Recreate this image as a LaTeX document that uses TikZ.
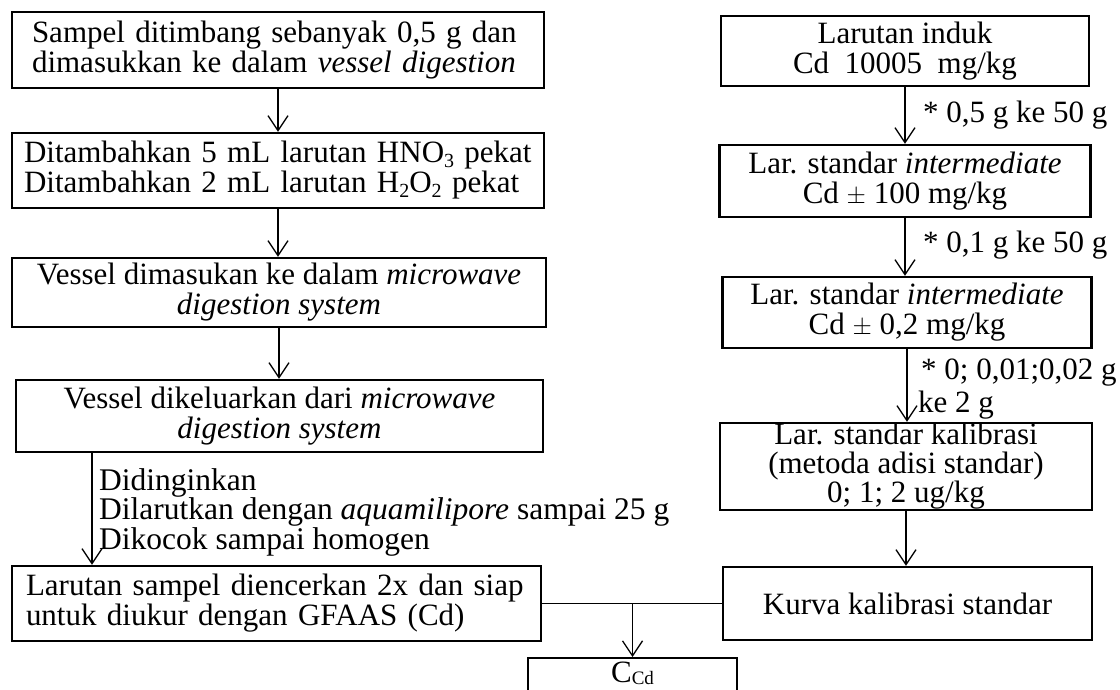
\documentclass[tikz,border=0pt]{standalone}
\usepackage{fontspec}
\setmainfont{Liberation Serif}
\usetikzlibrary{arrows.meta}
\newcommand{\subs}[1]{\raisebox{-5pt}{\fontsize{20}{20}\selectfont #1}}
\tikzset{
  box/.style={draw, line width=2.4pt, inner sep=0pt, font=\fontsize{31}{30}\selectfont},
  lbl/.style={inner sep=0pt, font=\fontsize{31}{30}\selectfont, align=left},
  arr/.style={line width=1.3pt, -{Straight Barb[length=15pt,width=20pt]}},
  ln/.style={line width=1.3pt}
}
\begin{document}
\begin{tikzpicture}[x=1pt,y=-1pt]
\fill[white] (0,0) rectangle (1120,690);
\clip (0,0) rectangle (1120,690);
% left column
\node[box, minimum width=532pt, minimum height=76pt, text width=492pt, align=left] (b1) at (278,50)
  {Sampel ditimbang sebanyak 0,5 g dan\\dimasukkan ke dalam \textit{vessel digestion}};
\node[box, minimum width=532pt, minimum height=75pt, text width=508pt, align=left] (b2) at (278,170.5)
  {Ditambahkan 5 mL larutan HNO\subs{3} pekat\\Ditambahkan 2 mL larutan H\subs{2}O\subs{2} pekat};
\node[box, minimum width=534pt, minimum height=69pt, align=center] (b3) at (279,292.5)
  {Vessel dimasukan ke dalam \textit{microwave}\\\textit{digestion system}};
\node[box, minimum width=527pt, minimum height=72pt, align=center] (b4) at (279.5,416)
  {Vessel dikeluarkan dari \textit{microwave}\\\textit{digestion system}};
\node[box, minimum width=529pt, minimum height=75pt, text width=501pt, align=left] (b5) at (276.5,603.5)
  {Larutan sampel diencerkan 2x dan siap\\untuk diukur dengan GFAAS (Cd)};
\node[lbl, anchor=west, font=\fontsize{31.5}{29.5}\selectfont] (steps) at (99,512)
  {Didinginkan\\Dilarutkan dengan \textit{aquamilipore} sampai 25 g\\Dikocok sampai homogen};
% right column
\node[box, minimum width=368pt, minimum height=70pt, align=center] (r1) at (905,51)
  {Larutan induk\\Cd\ \ 10005\ \ mg/kg};
\node[box, minimum width=371pt, minimum height=72pt, align=center] (r2) at (905,181)
  {Lar. standar \textit{intermediate}\\Cd $\pm$ 100 mg/kg};
\node[box, minimum width=369pt, minimum height=71pt, align=center] (r3) at (907,312.5)
  {Lar. standar \textit{intermediate}\\Cd $\pm$ 0,2 mg/kg};
\node[box, minimum width=372pt, minimum height=87pt, align=center, font=\fontsize{31}{29}\selectfont] (r4) at (906,466.5)
  {Lar. standar kalibrasi\\(metoda adisi standar)\\0; 1; 2 ug/kg};
\node[box, minimum width=369pt, minimum height=73pt, align=center] (r5) at (907.5,603.5)
  {Kurva kalibrasi standar};
\node[box, minimum width=209pt, minimum height=66pt, anchor=north,
  label={[lbl, anchor=north, yshift=-5pt]north:{C\raisebox{-2pt}{\fontsize{19}{19}\selectfont Cd}}}] (c) at (632.5,657) {};
% labels
\node[lbl, anchor=west] (l1) at (923,115) {* 0,5 g ke 50 g};
\node[lbl, anchor=west] (l2) at (923,245) {* 0,1 g ke 50 g};
\node[lbl, anchor=west] (l3) at (921,373) {* 0; 0,01;0,02 g};
\node[lbl, anchor=west] (l4) at (918,405) {ke 2 g};
% connectors
\draw[arr] (b1.south) -- (b1.south |- b2.north);
\draw[arr] (b2.south) -- (b2.south |- b3.north);
\draw[arr] (b3.south) -- (b3.south |- b4.north);
\coordinate (xl) at (92,0);
\draw[arr] (xl |- b4.south) -- (xl |- b5.north);
\draw[arr] (r1.south) -- (r1.south |- r2.north);
\draw[arr] (r2.south) -- (r2.south |- r3.north);
\draw[arr] (r3.south) -- (r3.south |- r4.north);
\draw[arr] (r4.south) -- (r4.south |- r5.north);
\draw[ln] (b5.east) -- (r5.west);
\draw[arr] (c.north |- b5.east) -- (c.north);
\end{tikzpicture}
\end{document}
